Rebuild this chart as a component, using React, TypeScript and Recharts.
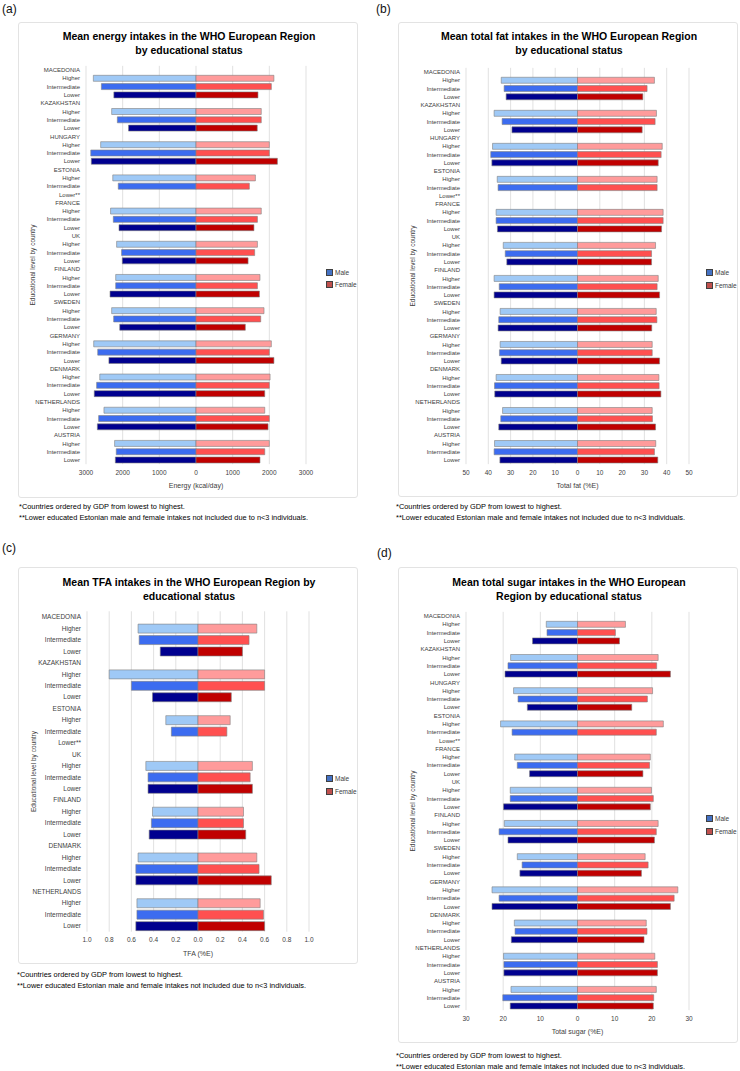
import React from 'react';
import { BarChart, Bar, XAxis, YAxis, CartesianGrid, Cell } from 'recharts';

const countriesMain = ["MACEDONIA", "KAZAKHSTAN", "HUNGARY", "ESTONIA", "FRANCE", "UK", "FINLAND", "SWEDEN", "GERMANY", "DENMARK", "NETHERLANDS", "AUSTRIA"];
const countriesTfa = ["MACEDONIA", "KAZAKHSTAN", "ESTONIA", "UK", "FINLAND", "DENMARK", "NETHERLANDS"];
const levels = ["Higher", "Intermediate", "Lower"];
const missingLevelLabel = "Lower**";
const seriesNames = ["Male", "Female"];

// values per country: Higher, Intermediate, Lower
const energyMale = [2800, 2580, 2240, 2300, 2145, 1840, 2600, 2870, 2855, 2270, 2120, null, 2330, 2255, 2100, 2165, 2030, 2010, 2190, 2190, 2345, 2300, 2245, 2080, 2790, 2680, 2375, 2625, 2710, 2775, 2510, 2655, 2690, 2220, 2175, 2200];
const energyFemale = [2125, 2055, 1690, 1780, 1780, 1670, 2000, 2000, 2220, 1620, 1455, null, 1780, 1675, 1580, 1675, 1600, 1420, 1745, 1675, 1730, 1855, 1765, 1345, 2055, 2000, 2125, 2020, 2000, 1875, 1875, 2000, 1965, 2000, 1875, 1745];

const fatMale = [34.2, 32.9, 32.0, 37.4, 33.8, 29.4, 38.1, 38.9, 38.4, 36.0, 35.6, null, 36.5, 36.5, 35.9, 33.3, 32.4, 31.7, 37.4, 35.1, 37.4, 34.7, 35.3, 35.6, 34.7, 35.0, 34.2, 36.5, 37.2, 37.1, 33.6, 34.4, 35.3, 37.2, 37.4, 34.8];
const fatFemale = [34.5, 31.2, 29.3, 35.4, 34.8, 29.0, 38.0, 37.5, 36.2, 35.7, 35.7, null, 38.4, 38.4, 37.7, 35.0, 33.2, 33.2, 36.2, 35.7, 36.8, 35.3, 35.6, 33.3, 33.5, 33.5, 36.8, 36.5, 36.6, 37.4, 33.5, 33.6, 35.0, 35.1, 34.5, 36.0];

const tfaMale = [0.54, 0.53, 0.34, 0.80, 0.60, 0.41, 0.29, 0.24, null, 0.47, 0.45, 0.45, 0.41, 0.42, 0.44, 0.54, 0.56, 0.56, 0.55, 0.55, 0.56];
const tfaFemale = [0.53, 0.46, 0.40, 0.60, 0.60, 0.30, 0.29, 0.26, null, 0.49, 0.47, 0.49, 0.41, 0.41, 0.43, 0.53, 0.55, 0.66, 0.56, 0.59, 0.60];

const sugarMale = [8.4, 8.2, 12.1, 18.0, 18.7, 19.5, 17.2, 16.0, 13.5, 20.7, 17.6, null, 16.9, 16.2, 12.9, 18.1, 18.1, 19.9, 19.7, 21.1, 18.7, 16.2, 14.9, 15.5, 23.0, 21.1, 23.0, 17.0, 16.8, 17.8, 19.9, 19.8, 19.8, 17.9, 20.1, 18.1];
const sugarFemale = [12.9, 10.2, 11.3, 21.7, 21.3, 25.0, 20.2, 18.8, 14.6, 23.1, 21.2, null, 19.6, 19.4, 17.6, 19.9, 20.4, 19.6, 21.7, 21.2, 20.7, 18.2, 19.0, 17.2, 27.0, 26.0, 25.0, 18.5, 18.7, 17.9, 20.8, 21.5, 21.5, 21.2, 20.5, 20.4];

const energyTicks = [-3000, -2000, -1000, 0, 1000, 2000, 3000];
const fatTicks = [-50, -40, -30, -20, -10, 0, 10, 20, 30, 40, 50];
const tfaTicks = [-1.0, -0.8, -0.6, -0.4, -0.2, 0, 0.2, 0.4, 0.6, 0.8, 1.0];
const sugarTicks = [-30, -20, -10, 0, 10, 20, 30];

const maleColors = ["#9fc9f6", "#3c6cf0", "#00008f"];
const femaleColors = ["#ff9b9b", "#ff5050", "#c00000"];
const legendColors = ["#4472c4", "#c0504d"];

const footnotes = [
  "*Countries ordered by GDP from lowest to highest.",
  "**Lower educated Estonian male and female intakes not included due to n<3 individuals.",
];

type Row = { key: string; label: string; male: number | null; female: number | null; level: number };

function buildRows(countries: string[], male: (number | null)[], female: (number | null)[]): Row[] {
  const rows: Row[] = [];
  countries.forEach((c, ci) => {
    rows.push({ key: c, label: c, male: null, female: null, level: -1 });
    levels.forEach((l, li) => {
      const m = male[ci * 3 + li];
      const f = female[ci * 3 + li];
      rows.push({
        key: c + ':' + l,
        label: m === null && f === null ? missingLevelLabel : l,
        male: m === null ? null : -m,
        female: f,
        level: li,
      });
    });
  });
  return rows;
}

const FONT = '"Liberation Sans", Arial, sans-serif';
const TXT = '#404040';

type PanelProps = {
  x: number; y: number; w: number; h: number;
  title: string[]; titleTop: number;
  rows: Row[]; ticks: number[]; fmt: (v: number) => string;
  xLabel: string;
  margin: { top: number; right: number; bottom: number; left: number };
  legend: { x: number; y: number; gap: number };
  gap: string;
  tickFont: number;
};

function Panel(p: PanelProps) {
  const dom: [number, number] = [p.ticks[0], p.ticks[p.ticks.length - 1]];
  return (
    <div style={{ position: 'absolute', left: p.x, top: p.y, width: p.w, height: p.h, border: '1px solid #e3e3e3', boxSizing: 'border-box', borderRadius: 3, background: '#fff' }}>
      <div style={{ position: 'absolute', left: 0, top: p.titleTop, width: p.w, textAlign: 'center', fontWeight: 'bold', fontSize: 10.5, lineHeight: '14px', color: '#000', fontFamily: FONT }}>
        {p.title.map((t, i) => <div key={i}>{t}</div>)}
      </div>
      <div style={{ position: 'absolute', left: -1, top: -1 }}>
        <BarChart width={p.w} height={p.h} data={p.rows} layout="vertical" stackOffset="sign" margin={p.margin} barCategoryGap={p.gap} style={{ fontFamily: FONT }}>
          <CartesianGrid horizontal={false} stroke="#d9d9d9" strokeWidth={0.8} />
          <XAxis type="number" domain={dom} ticks={p.ticks} allowDataOverflow interval={0}
            tickFormatter={p.fmt} axisLine={false} tickLine={false} tickSize={4} tickMargin={2} height={24}
            tick={{ fontSize: 6.5, fill: TXT }}
            label={{ value: p.xLabel, position: 'insideBottom', offset: 0, style: { fontSize: 7, fill: TXT } }} />
          <YAxis type="category" dataKey="key" width={60} interval={0} axisLine={false} tickLine={false} tickSize={2} tickMargin={4}
            tickFormatter={(_v: string, i: number) => p.rows[i] ? p.rows[i].label : ''}
            tick={{ fontSize: p.tickFont, fill: TXT }}
            label={{ value: 'Educational level by country', angle: -90, position: 'insideLeft', offset: 7, style: { textAnchor: 'middle', fontSize: 6.5, fill: TXT } }} />
          <Bar dataKey="male" name={seriesNames[0]} stackId="s" fill={legendColors[0]} stroke="#7f7f7f" strokeWidth={0.6} isAnimationActive={false}>
            {p.rows.map((r, i) => <Cell key={i} fill={r.level >= 0 ? maleColors[r.level] : legendColors[0]} />)}
          </Bar>
          <Bar dataKey="female" name={seriesNames[1]} stackId="s" fill={legendColors[1]} stroke="#7f7f7f" strokeWidth={0.6} isAnimationActive={false}>
            {p.rows.map((r, i) => <Cell key={i} fill={r.level >= 0 ? femaleColors[r.level] : legendColors[1]} />)}
          </Bar>
        </BarChart>
      </div>
      {seriesNames.map((n, i) => (
        <div key={n} style={{ position: 'absolute', left: p.legend.x, top: p.legend.y + i * p.legend.gap - 4, height: 8, display: 'flex', alignItems: 'center', fontSize: 6.5, color: TXT, fontFamily: FONT }}>
          <span style={{ display: 'inline-block', width: 5, height: 5, background: legendColors[i], border: '0.5px solid #404040', marginRight: 2 }} />
          {n}
        </div>
      ))}
    </div>
  );
}

function Footnotes({ x, y }: { x: number; y: number }) {
  return (
    <div style={{ position: 'absolute', left: x, top: y, fontSize: 7.4, lineHeight: '11px', color: '#000', fontFamily: FONT, whiteSpace: 'nowrap' }}>
      {footnotes.map((f, i) => <div key={i}>{f}</div>)}
    </div>
  );
}

const absFmt = (v: number) => String(Math.abs(v));
const tfaFmt = (v: number) => Math.abs(v).toFixed(1);

export default function App() {
  const rowsA = buildRows(countriesMain, energyMale, energyFemale);
  const rowsB = buildRows(countriesMain, fatMale, fatFemale);
  const rowsC = buildRows(countriesTfa, tfaMale, tfaFemale);
  const rowsD = buildRows(countriesMain, sugarMale, sugarFemale);
  const panelLabel = (t: string, x: number, y: number) => (
    <div style={{ position: 'absolute', left: x, top: y, fontSize: 12, lineHeight: '14px', fontFamily: FONT, color: '#111' }}>{t}</div>
  );
  return (
    <div style={{ position: 'absolute', left: 0, top: 0, width: 740, height: 1071, background: '#fff', overflow: 'hidden' }}>
      {panelLabel('(a)', 2, 2)}
      {panelLabel('(b)', 376, 2)}
      {panelLabel('(c)', 2, 541)}
      {panelLabel('(d)', 377, 546)}
      <Panel x={18} y={22} w={340} h={476} title={["Mean energy intakes in the WHO European Region", "by educational status"]} titleTop={6}
        rows={rowsA} ticks={energyTicks} fmt={absFmt} xLabel="Energy (kcal/day)"
        margin={{ top: 43.85, right: 52, bottom: 9.85, left: 8 }} legend={{ x: 307, y: 249, gap: 12 }} gap="14%" tickFont={6} />
      <Footnotes x={19} y={501} />
      <Panel x={398} y={22} w={340} h={475} title={["Mean total fat intakes in the WHO European Region", "by educational status"]} titleTop={6}
        rows={rowsB} ticks={fatTicks} fmt={absFmt} xLabel="Total fat (%E)"
        margin={{ top: 45.87, right: 49, bottom: 8.87, left: 8 }} legend={{ x: 307, y: 249, gap: 13 }} gap="14%" tickFont={6} />
      <Footnotes x={396} y={501} />
      <Panel x={18} y={567} w={340} h={397} title={["Mean TFA intakes in the WHO European Region by", "educational status"]} titleTop={7}
        rows={rowsC} ticks={tfaTicks} fmt={tfaFmt} xLabel="TFA (%E)"
        margin={{ top: 44.3, right: 49, bottom: 8.3, left: 9 }} legend={{ x: 307, y: 210, gap: 13 }} gap="12%" tickFont={6.5} />
      <Footnotes x={17} y={969} />
      <Panel x={398} y={567} w={340} h={476} title={["Mean total sugar intakes in the WHO European", "Region by educational status"]} titleTop={7}
        rows={rowsD} ticks={sugarTicks} fmt={absFmt} xLabel="Total sugar (%E)"
        margin={{ top: 44.85, right: 49, bottom: 8.85, left: 8 }} legend={{ x: 307, y: 250, gap: 13 }} gap="14%" tickFont={6} />
      <Footnotes x={396} y={1050} />
    </div>
  );
}
